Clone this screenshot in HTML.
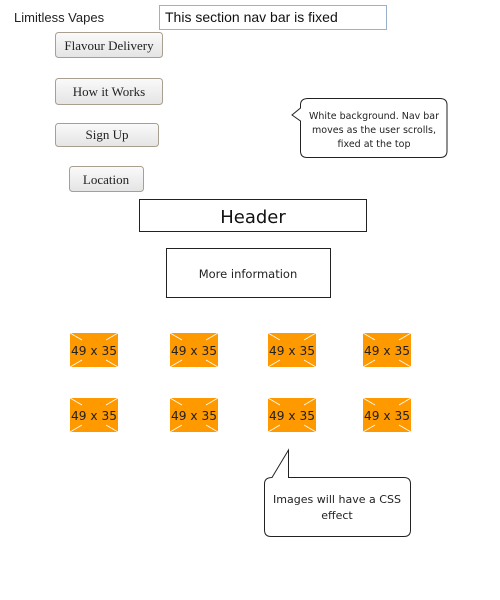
<!DOCTYPE html>
<html><head><style>
html,body{margin:0;padding:0;background:#fff;width:500px;height:600px;overflow:hidden}
svg text{font-family:"Comic Sans MS","DejaVu Sans",sans-serif}
.s{font-family:"Liberation Serif",serif !important}
.l{font-family:"Liberation Sans",sans-serif !important}
</style></head><body>
<svg width="500" height="600" xmlns="http://www.w3.org/2000/svg">
<defs>
<linearGradient id="g" x1="0" y1="0" x2="0" y2="1"><stop offset="0" stop-color="#fafafa"/><stop offset="1" stop-color="#e4e4e4"/></linearGradient>
</defs>
<text x="14" y="22" class="l" font-size="13" fill="#222">Limitless Vapes</text>
<rect x="159.5" y="5.5" width="227" height="24" fill="#fff" stroke="#9ab0cc"/>
<text x="165" y="22" class="l" font-size="14" fill="#111">This section nav bar is fixed</text>

<rect x="55.5" y="32.5" width="107" height="25" rx="3" fill="url(#g)" stroke="#a89f90"/>
<text x="109" y="50" class="s" font-size="13" text-anchor="middle" fill="#222">Flavour Delivery</text>
<rect x="55.5" y="78.5" width="107" height="26" rx="3" fill="url(#g)" stroke="#a89f90"/>
<text x="109" y="96" class="s" font-size="13" text-anchor="middle" fill="#222">How it Works</text>
<rect x="55.5" y="123.5" width="103" height="23" rx="3" fill="url(#g)" stroke="#a89f90"/>
<text x="107" y="139" class="s" font-size="13" text-anchor="middle" fill="#222">Sign Up</text>
<rect x="69.5" y="166.5" width="74" height="25" rx="3" fill="url(#g)" stroke="#a89f90"/>
<text x="106" y="184" class="s" font-size="13" text-anchor="middle" fill="#222">Location</text>

<path d="M308,98.5 H440 Q447,98.5 447,105 V151 Q447,157.5 440,157.5 H307 Q300.5,157.5 300.5,151 V121 L292,115 L300.5,108 V105 Q300.5,98.5 308,98.5 Z" fill="#fff" stroke="#222"/>
<text x="374" y="119" font-size="9.5" text-anchor="middle" fill="#222" textLength="130" lengthAdjust="spacingAndGlyphs">White background. Nav bar</text>
<text x="374" y="133" font-size="9.5" text-anchor="middle" fill="#222" textLength="124" lengthAdjust="spacingAndGlyphs">moves as the user scrolls,</text>
<text x="374" y="147" font-size="9.5" text-anchor="middle" fill="#222">fixed at the top</text>

<rect x="139.5" y="199.5" width="227" height="32" fill="#fff" stroke="#222"/>
<text x="253" y="223" font-size="18" text-anchor="middle" fill="#111">Header</text>
<rect x="166.5" y="248.5" width="164" height="49" fill="#fff" stroke="#222"/>
<text x="248" y="278" font-size="11.5" text-anchor="middle" fill="#222">More information</text>

<g font-size="12" fill="#222">
<g transform="translate(70,333)"><rect width="48" height="34" fill="#ff9900"/><path d="M0,0 L12,7 M48,0 L36,7 M0,34 L12,27 M48,34 L36,27" stroke="#fff" stroke-width="0.8"/><text x="24" y="22" text-anchor="middle" textLength="46" lengthAdjust="spacingAndGlyphs">49 x 35</text></g>
<g transform="translate(170,333)"><rect width="48" height="34" fill="#ff9900"/><path d="M0,0 L12,7 M48,0 L36,7 M0,34 L12,27 M48,34 L36,27" stroke="#fff" stroke-width="0.8"/><text x="24" y="22" text-anchor="middle" textLength="46" lengthAdjust="spacingAndGlyphs">49 x 35</text></g>
<g transform="translate(268,333)"><rect width="48" height="34" fill="#ff9900"/><path d="M0,0 L12,7 M48,0 L36,7 M0,34 L12,27 M48,34 L36,27" stroke="#fff" stroke-width="0.8"/><text x="24" y="22" text-anchor="middle" textLength="46" lengthAdjust="spacingAndGlyphs">49 x 35</text></g>
<g transform="translate(363,333)"><rect width="48" height="34" fill="#ff9900"/><path d="M0,0 L12,7 M48,0 L36,7 M0,34 L12,27 M48,34 L36,27" stroke="#fff" stroke-width="0.8"/><text x="24" y="22" text-anchor="middle" textLength="46" lengthAdjust="spacingAndGlyphs">49 x 35</text></g>
<g transform="translate(70,398)"><rect width="48" height="34" fill="#ff9900"/><path d="M0,0 L12,7 M48,0 L36,7 M0,34 L12,27 M48,34 L36,27" stroke="#fff" stroke-width="0.8"/><text x="24" y="22" text-anchor="middle" textLength="46" lengthAdjust="spacingAndGlyphs">49 x 35</text></g>
<g transform="translate(170,398)"><rect width="48" height="34" fill="#ff9900"/><path d="M0,0 L12,7 M48,0 L36,7 M0,34 L12,27 M48,34 L36,27" stroke="#fff" stroke-width="0.8"/><text x="24" y="22" text-anchor="middle" textLength="46" lengthAdjust="spacingAndGlyphs">49 x 35</text></g>
<g transform="translate(268,398)"><rect width="48" height="34" fill="#ff9900"/><path d="M0,0 L12,7 M48,0 L36,7 M0,34 L12,27 M48,34 L36,27" stroke="#fff" stroke-width="0.8"/><text x="24" y="22" text-anchor="middle" textLength="46" lengthAdjust="spacingAndGlyphs">49 x 35</text></g>
<g transform="translate(363,398)"><rect width="48" height="34" fill="#ff9900"/><path d="M0,0 L12,7 M48,0 L36,7 M0,34 L12,27 M48,34 L36,27" stroke="#fff" stroke-width="0.8"/><text x="24" y="22" text-anchor="middle" textLength="46" lengthAdjust="spacingAndGlyphs">49 x 35</text></g>
</g>

<path d="M272,477.5 L288.5,450 V477.5 H404 Q410.5,477.5 410.5,484 V530 Q410.5,536.5 404,536.5 H271 Q264.5,536.5 264.5,530 V484 Q264.5,477.5 272,477.5 Z" fill="#fff" stroke="#222"/>
<text x="337" y="503" font-size="11" text-anchor="middle" fill="#222" textLength="128" lengthAdjust="spacingAndGlyphs">Images will have a CSS</text>
<text x="337" y="519" font-size="11" text-anchor="middle" fill="#222">effect</text>
</svg>
</body></html>
